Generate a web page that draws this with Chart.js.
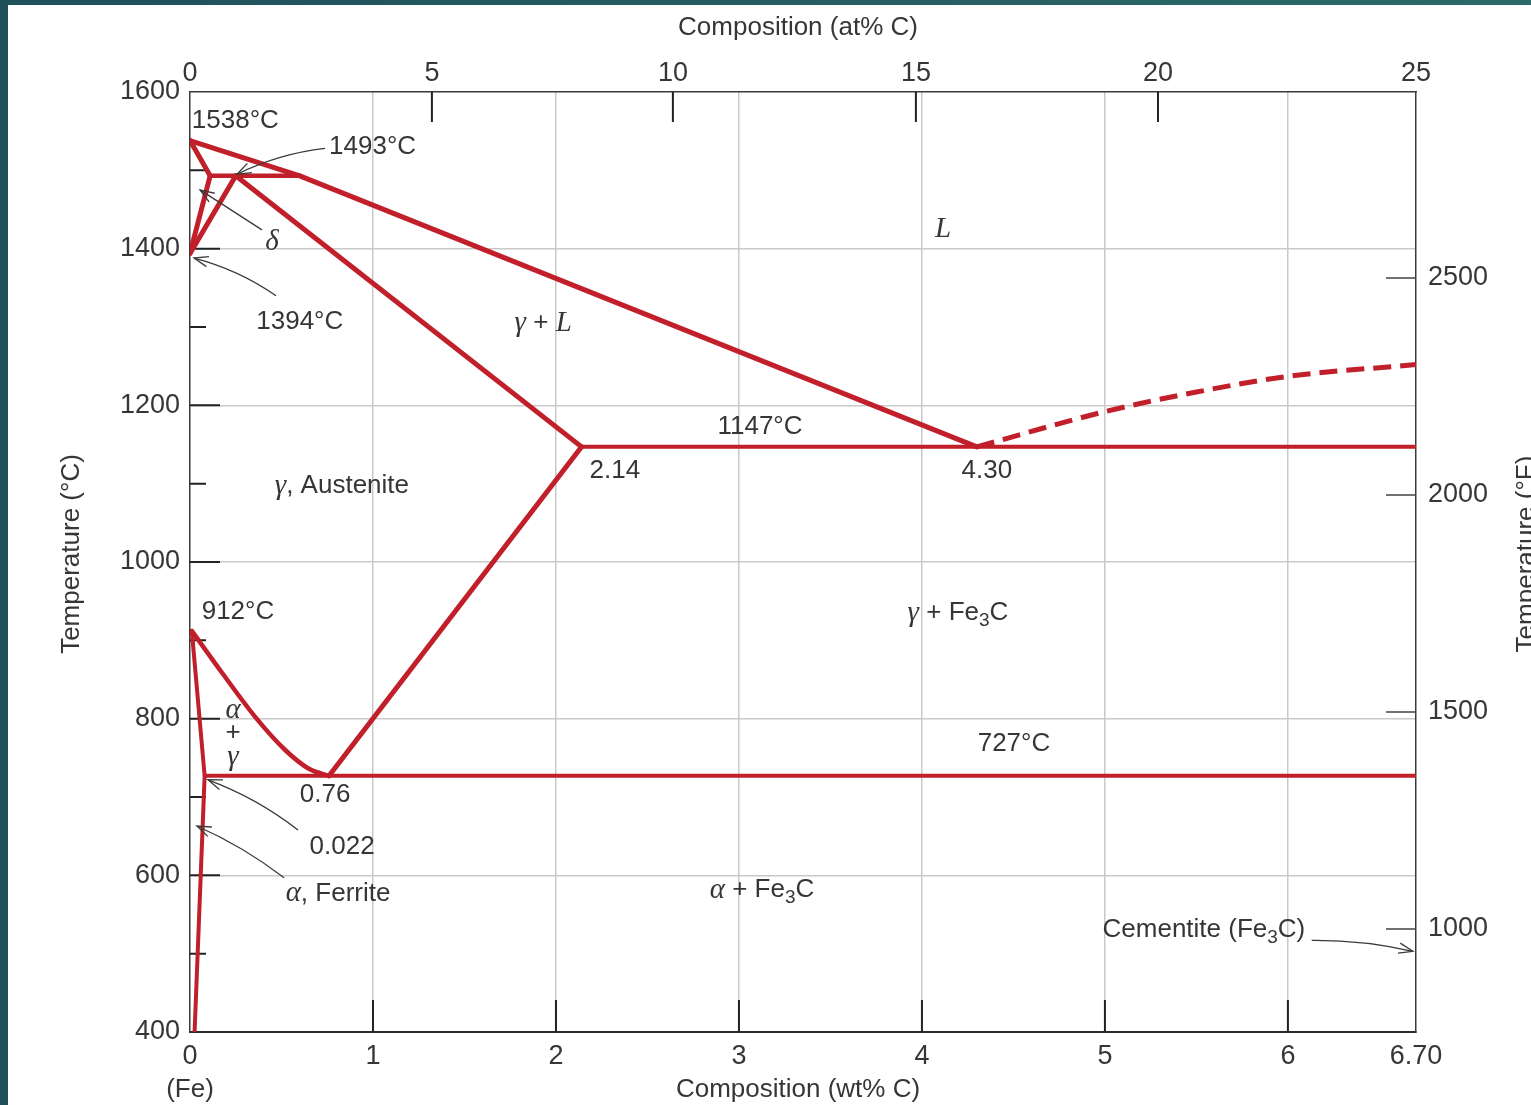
<!DOCTYPE html>
<html lang="en">
<head>
<meta charset="UTF-8">
<title>Fe-Fe3C phase diagram</title>
<script src="https://cdn.jsdelivr.net/npm/chart.js"></script>
<style>
  html, body { margin: 0; padding: 0; background: #fff; }
</style>
</head>
<body>
<canvas id="myChart" width="1531" height="1105"></canvas>
<script>
// axis ticks
const wtTicks = [0, 1, 2, 3, 4, 5, 6, 6.7];
const wtLabels = ['0', '1', '2', '3', '4', '5', '6', '6.70'];
const atLabels = ['0', '5', '10', '15', '20', '25'];
const atTickPos = [0, 1.322, 2.639, 3.967, 5.290, 6.70];   // wt% position of each at% tick
const fLabels = ['1000', '1500', '2000', '2500'];
const fTickPos = [531.5, 808.5, 1085.5, 1362.6];           // °C position of each °F tick
const tempTicks = [400, 600, 800, 1000, 1200, 1400, 1600];
const tempMinor = [500, 700, 900, 1100, 1300, 1500];

// phase boundaries [wt% C, °C]
const liquidus = [[0, 1538], [0.60, 1493], [4.30, 1147]];
const deltaSolidus = [[0, 1538], [0.11, 1493]];
const peritectic = [[0.11, 1493], [0.60, 1493]];
const deltaSolvus = [[0, 1394], [0.11, 1493]];
const gammaDelta = [[0, 1394], [0.25, 1493]];
const gammaSolidus = [[0.25, 1493], [2.14, 1147]];
const eutectic = [[2.14, 1147], [6.70, 1147]];
const cementiteLiq = [[4.30, 1147], [5.0, 1192], [5.5, 1217], [6.0, 1237], [6.70, 1252]];
const acm = [[0.76, 727], [2.14, 1147]];
const a3 = [[0.01, 912], [0.18, 857], [0.364, 800], [0.52, 760], [0.65, 736], [0.76, 727]];
const alphaSolvus = [[0.01, 912], [0.08, 727], [0.025, 400]];
const eutectoid = [[0.08, 727], [6.70, 727]];

const RED = '#c11f2a';
const TXT = '#363636';
const GRID = '#c9c9c9';
const SANS = '"Liberation Sans", Arial, sans-serif';
const SERIF = '"Liberation Serif", "DejaVu Serif", serif';

function line(pts, extra) {
    return Object.assign({
        data: pts.map(p => ({ x: p[0], y: p[1] })),
        showLine: true, borderColor: RED, borderWidth: 5, pointRadius: 0,
        fill: false, tension: 0, borderJoinStyle: 'round', borderCapStyle: 'round'
    }, extra || {});
}

// text labels inside the plot: parts [text, style], anchor in data units
const notes = [
    { t: [['1538°C', '']], x: 0.01, y: 1563, align: 'left' },
    { t: [['1493°C', '']], x: 0.76, y: 1530, align: 'left' },
    { t: [['δ', 'i']], x: 0.448, y: 1408 },
    { t: [['1394°C', '']], x: 0.60, y: 1306 },
    { t: [['L', 'i']], x: 4.115, y: 1424 },
    { t: [['γ', 'i'], [' + ', ''], ['L', 'i']], x: 1.93, y: 1305 },
    { t: [['1147°C', '']], x: 3.115, y: 1172 },
    { t: [['2.14', '']], x: 2.322, y: 1117 },
    { t: [['4.30', '']], x: 4.355, y: 1117 },
    { t: [['γ', 'i'], [', Austenite', '']], x: 0.83, y: 1097 },
    { t: [['912°C', '']], x: 0.262, y: 936 },
    { t: [['γ', 'i'], [' + Fe', ''], ['3', 's'], ['C', '']], x: 4.197, y: 935 },
    { t: [['α', 'i']], x: 0.235, y: 810 },
    { t: [['+', '']], x: 0.235, y: 782 },
    { t: [['γ', 'i']], x: 0.235, y: 751 },
    { t: [['727°C', '']], x: 4.503, y: 768 },
    { t: [['0.76', '']], x: 0.738, y: 703 },
    { t: [['0.022', '']], x: 0.831, y: 636 },
    { t: [['α', 'i'], [', Ferrite', '']], x: 0.809, y: 577 },
    { t: [['α', 'i'], [' + Fe', ''], ['3', 's'], ['C', '']], x: 3.126, y: 581 },
    { t: [['Cementite (Fe', ''], ['3', 's'], ['C)', '']], x: 5.541, y: 530 }
];

// leader arrows: from label to point, bend in px
const arrows = [
    { from: [0.738, 1528], to: [0.257, 1495], bend: 8 },
    { from: [0.393, 1424], to: [0.055, 1475], bend: 0 },
    { from: [0.47, 1340], to: [0.022, 1388], bend: 8 },
    { from: [0.59, 658], to: [0.098, 722], bend: 8 },
    { from: [0.514, 597], to: [0.038, 663], bend: 6 },
    { from: [6.13, 517], to: [6.683, 503], bend: -6 }
];

function drawRich(c, parts, x, y, size, align) {
    const fontOf = p => p[1] === 'i' ? `italic ${Math.round(size * 1.12)}px ${SERIF}`
        : p[1] === 's' ? `${Math.round(size * 0.72)}px ${SANS}` : `${size}px ${SANS}`;
    let w = 0;
    parts.forEach(p => { c.font = fontOf(p); w += c.measureText(p[0]).width; });
    let cx = align === 'left' ? x : x - w / 2;
    c.textAlign = 'left';
    c.textBaseline = 'middle';
    parts.forEach(p => {
        c.font = fontOf(p);
        c.fillText(p[0], cx, p[1] === 's' ? y + size * 0.3 : y);
        cx += c.measureText(p[0]).width;
    });
}

function drawArrow(c, x0, y0, x1, y1, bend) {
    const mx = (x0 + x1) / 2, my = (y0 + y1) / 2;
    const dx = x1 - x0, dy = y1 - y0, len = Math.hypot(dx, dy);
    const qx = mx - dy / len * bend, qy = my + dx / len * bend;
    c.beginPath();
    c.moveTo(x0, y0);
    c.quadraticCurveTo(qx, qy, x1, y1);
    c.stroke();
    const ang = Math.atan2(y1 - qy, x1 - qx);
    c.beginPath();
    c.moveTo(x1 - 15 * Math.cos(ang - 0.35), y1 - 15 * Math.sin(ang - 0.35));
    c.lineTo(x1, y1);
    c.lineTo(x1 - 15 * Math.cos(ang + 0.35), y1 - 15 * Math.sin(ang + 0.35));
    c.stroke();
}

const decor = {
    id: 'decor',
    beforeDraw(chart) {
        const c = chart.ctx;
        c.save();
        c.fillStyle = '#fff';
        c.fillRect(0, 0, chart.width, chart.height);
        const g = c.createLinearGradient(0, 0, chart.width, 0);
        g.addColorStop(0, '#1f4f59');
        g.addColorStop(1, '#2c6a6a');
        c.fillStyle = g;
        c.fillRect(0, 0, 8, chart.height);
        c.fillRect(0, 0, chart.width, 5);
        c.restore();
    },
    beforeDatasetsDraw(chart) {
        const c = chart.ctx, a = chart.chartArea, s = chart.scales;
        c.save();
        c.strokeStyle = '#222';
        c.lineWidth = 2;
        c.beginPath();
        tempTicks.slice(1, -1).forEach(v => { const p = s.y.getPixelForValue(v); c.moveTo(a.left, p); c.lineTo(a.left + 30, p); });
        tempMinor.forEach(v => { const p = s.y.getPixelForValue(v); c.moveTo(a.left, p); c.lineTo(a.left + 16, p); });
        wtTicks.slice(1, -1).forEach(v => { const p = s.x.getPixelForValue(v); c.moveTo(p, a.bottom); c.lineTo(p, a.bottom - 32); });
        atTickPos.slice(1, -1).forEach(v => { const p = s.x.getPixelForValue(v); c.moveTo(p, a.top); c.lineTo(p, a.top + 30); });
        c.stroke();
        c.strokeStyle = '#444';
        c.lineWidth = 1.5;
        c.beginPath();
        fTickPos.forEach(v => { const p = s.y.getPixelForValue(v); c.moveTo(a.right, p); c.lineTo(a.right - 30, p); });
        c.stroke();
        c.restore();
    },
    afterDraw(chart) {
        const c = chart.ctx, a = chart.chartArea, s = chart.scales;
        c.save();
        c.fillStyle = TXT;
        notes.forEach(n => drawRich(c, n.t, s.x.getPixelForValue(n.x), s.y.getPixelForValue(n.y), 26, n.align));
        c.strokeStyle = '#3a3a3a';
        c.lineWidth = 1.3;
        arrows.forEach(r => drawArrow(c,
            s.x.getPixelForValue(r.from[0]), s.y.getPixelForValue(r.from[1]),
            s.x.getPixelForValue(r.to[0]), s.y.getPixelForValue(r.to[1]), r.bend));

        // axis titles
        const midX = (a.left + a.right) / 2 - 5, midY = (a.top + a.bottom) / 2 - 8;
        c.font = `26px ${SANS}`;
        c.textAlign = 'center';
        c.textBaseline = 'middle';
        c.fillText('Composition (at% C)', midX, 28);
        c.fillText('Composition (wt% C)', midX, a.bottom + 58);
        c.fillText('(Fe)', a.left, a.bottom + 58);
        c.save();
        c.translate(72, midY);
        c.rotate(-Math.PI / 2);
        c.fillText('Temperature (°C)', 0, 0);
        c.restore();
        c.save();
        c.translate(a.right + 111, midY);
        c.rotate(-Math.PI / 2);
        c.fillText('Temperature (°F)', 0, 0);
        c.restore();
        c.restore();
    }
};

const tickFont = { family: SANS, size: 27 };
const hidden = 'rgba(0,0,0,0)';

new Chart(document.getElementById('myChart'), {
    type: 'scatter',
    data: {
        datasets: [
            line(liquidus), line(deltaSolidus), line(peritectic, { borderWidth: 4.5 }),
            line(deltaSolvus), line(gammaDelta), line(gammaSolidus),
            line(eutectic, { borderWidth: 4 }),
            line(cementiteLiq, { borderDash: [18, 9], borderCapStyle: 'butt', cubicInterpolationMode: 'monotone' }),
            line(acm), line(a3, { cubicInterpolationMode: 'monotone', borderWidth: 4.5 }),
            line(alphaSolvus, { borderWidth: 4 }), line(eutectoid, { borderWidth: 4 })
        ]
    },
    options: {
        responsive: false,
        animation: false,
        layout: { padding: 0 },
        plugins: { legend: { display: false }, tooltip: { enabled: false } },
        scales: {
            x: {
                type: 'linear', position: 'bottom', min: 0, max: 6.7,
                afterBuildTicks: sc => { sc.ticks = wtTicks.map(v => ({ value: v })); },
                afterFit: sc => { sc.height = 73; },
                ticks: { autoSkip: false, maxRotation: 0, padding: 8, color: TXT, font: tickFont, callback: (v, i) => wtLabels[i] },
                grid: { drawTicks: false, lineWidth: 1.5, color: ctx => (ctx.tick && ctx.tick.value > 0 && ctx.tick.value < 6.7) ? GRID : hidden },
                border: { color: '#2a2a2a', width: 2 }
            },
            x2: {
                type: 'linear', position: 'top', min: 0, max: 6.7,
                afterBuildTicks: sc => { sc.ticks = atTickPos.map(v => ({ value: v })); },
                afterFit: sc => { sc.height = 92; },
                ticks: { autoSkip: false, maxRotation: 0, padding: 2, color: TXT, font: tickFont, callback: (v, i) => atLabels[i] },
                grid: { display: false, drawTicks: false },
                border: { color: '#3a3a3a', width: 1.5 }
            },
            y: {
                type: 'linear', position: 'left', min: 400, max: 1600,
                afterBuildTicks: sc => { sc.ticks = tempTicks.map(v => ({ value: v })); },
                afterFit: sc => { sc.width = 190; },
                ticks: { autoSkip: false, padding: 10, color: TXT, font: tickFont, callback: (v, i) => String(tempTicks[i]) },
                grid: { drawTicks: false, lineWidth: 1.5, color: ctx => (ctx.tick && ctx.tick.value > 400 && ctx.tick.value < 1600) ? GRID : hidden },
                border: { color: '#3a3a3a', width: 1.5 }
            },
            y2: {
                type: 'linear', position: 'right', min: 400, max: 1600,
                afterBuildTicks: sc => { sc.ticks = fTickPos.map(v => ({ value: v })); },
                afterFit: sc => { sc.width = 115; },
                ticks: { autoSkip: false, padding: 12, color: TXT, font: tickFont, callback: (v, i) => fLabels[i] },
                grid: { display: false, drawTicks: false },
                border: { color: '#3a3a3a', width: 1.5 }
            }
        }
    },
    plugins: [decor]
});
</script>
</body>
</html>
